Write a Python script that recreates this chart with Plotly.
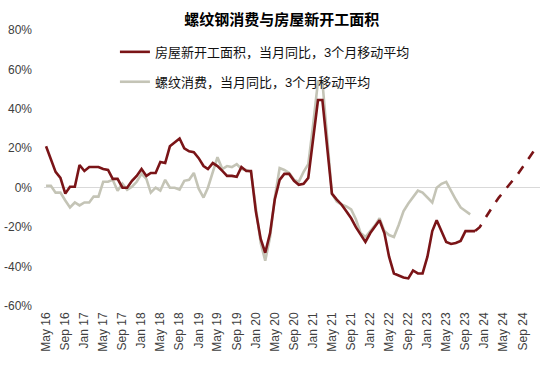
import pandas as pd
import plotly.graph_objects as go

start_month = "2016-05-01"

housing_starts = [21, 14, 8, 5, -3, 0.5, 0.5, 11.5, 8.5, 10.5, 10.5, 10.5, 9.5, 9, 4.5, 4.5,
                  0, 0, 3.5, 6, 9.5, 6, 7.5, 7.5, 13, 12.5, 21, 23, 25, 20, 18.5, 18,
                  15, 11, 9.5, 12.5, 11, 8.5, 6, 6, 5.5, 10.5, 8.5, 8.5, -12, -26, -33, -23,
                  -6, 4, 7, 7, 3.5, 1.5, 2, 5, 25, 44.5, 44.5, 20, -3, -6, -8.5, -12,
                  -15.5, -20, -24, -27.5, -23, -19.5, -16.5, -23, -35, -43.5, -44.5, -45.5, -46, -42,
                  -43.5, -43.5, -35, -22, -16.5, -22, -27.5, -28.5, -28, -27, -22, -22, -22]

rebar_consumption = [1, 1, -2.5, -2.5, -6.5, -10, -7.5, -9, -7.5, -7.5, -4.5, -4.5, 3, 3, 4, -1.5,
                     2, -1, 0.5, 3, 7, 4.5, -2.5, 0, -1.5, 4, 0, 0, -1, 3.5, 4, 7.5,
                     -0.5, -5, 0, 7.5, 15.5, 9.5, 11, 10.5, 12, 9.5, 9, 8, -10, -28, -37, -25,
                     -5, 10, 9, 7.5, 4, 3, 8, 12, 32, 54, 54, 25, -3, -7, -8.5, -9.5,
                     -11, -16, -23, -25, -22, -19, -15.5, -22, -24, -25, -19, -12, -8, -4.5,
                     -1.5, -2.5, -5, -7.5, 0, 2, 3, -2, -6, -10, -12, -13.5]

forecast_start = "2023-11-01"
housing_forecast = [-22, -20, -16, -12, -8.5, -5, -2, 0.5, 3.5, 7, 10.5, 14, 17.5, 21]

y_ticks = [-60, -40, -20, 0, 20, 40, 60, 80]
y_tick_labels = ["-60%", "-40%", "-20%", "0%", "20%", "40%", "60%", "80%"]

name_housing = "房屋新开工面积，当月同比，3个月移动平均"
name_rebar = "螺纹消费，当月同比，3个月移动平均"
title_text = "螺纹钢消费与房屋新开工面积"

x_housing = pd.date_range(start_month, periods=len(housing_starts), freq="MS")
x_rebar = pd.date_range(start_month, periods=len(rebar_consumption), freq="MS")
x_fc = pd.date_range(forecast_start, periods=len(housing_forecast), freq="MS")

RED = "#7A1417"
GRAY = "#C4C4B6"

fig = go.Figure()
fig.add_trace(go.Scatter(x=x_rebar, y=rebar_consumption, mode="lines", name=name_rebar,
                         line=dict(color=GRAY, width=2.6), legendgroup="b", legendrank=2))
fig.add_trace(go.Scatter(x=x_housing, y=housing_starts, mode="lines", name=name_housing,
                         line=dict(color=RED, width=2.6), legendgroup="a", legendrank=1))
fig.add_trace(go.Scatter(x=x_fc, y=housing_forecast, mode="lines", showlegend=False,
                         line=dict(color=RED, width=2.6, dash="dash")))

font_main = "Arial, 'Liberation Sans', 'Noto Sans CJK SC', sans-serif"

fig.update_layout(
    width=554, height=369,
    margin=dict(l=44, r=14, t=30, b=63),
    paper_bgcolor="white", plot_bgcolor="white",
    font=dict(family=font_main, size=12, color="#404040"),
    title=dict(text="<b>" + title_text + "</b>", x=0.5085, xanchor="center", y=0.946, yanchor="middle",
               font=dict(family="'Noto Sans CJK SC', sans-serif", size=15, color="#000000")),
    showlegend=True,
    legend=dict(x=0.143, y=0.975, xanchor="left", yanchor="top", bgcolor="rgba(0,0,0,0)",
                font=dict(family=font_main, size=13, color="#111111"), tracegroupgap=10,
                traceorder="grouped"),
    xaxis=dict(type="date", range=["2016-04-18", "2024-12-20"], tickformat="%b %y",
               tick0=start_month, dtick="M4", tickangle=-90, showgrid=False, showline=False,
               zeroline=False, ticks="", ticklabelstandoff=3, automargin=False,
               tickfont=dict(size=12, color="#404040")),
    yaxis=dict(range=[-60, 80], tickmode="array", tickvals=y_ticks, ticktext=y_tick_labels,
               showgrid=False, zeroline=True, zerolinecolor="#D9D9D9", zerolinewidth=1,
               showline=False, ticks="", ticklabelstandoff=11, automargin=False,
               tickfont=dict(size=12, color="#404040")),
)

fig.write_html("out.html", config={"displayModeBar": False},
               post_script="document.body.style.margin='0';")
